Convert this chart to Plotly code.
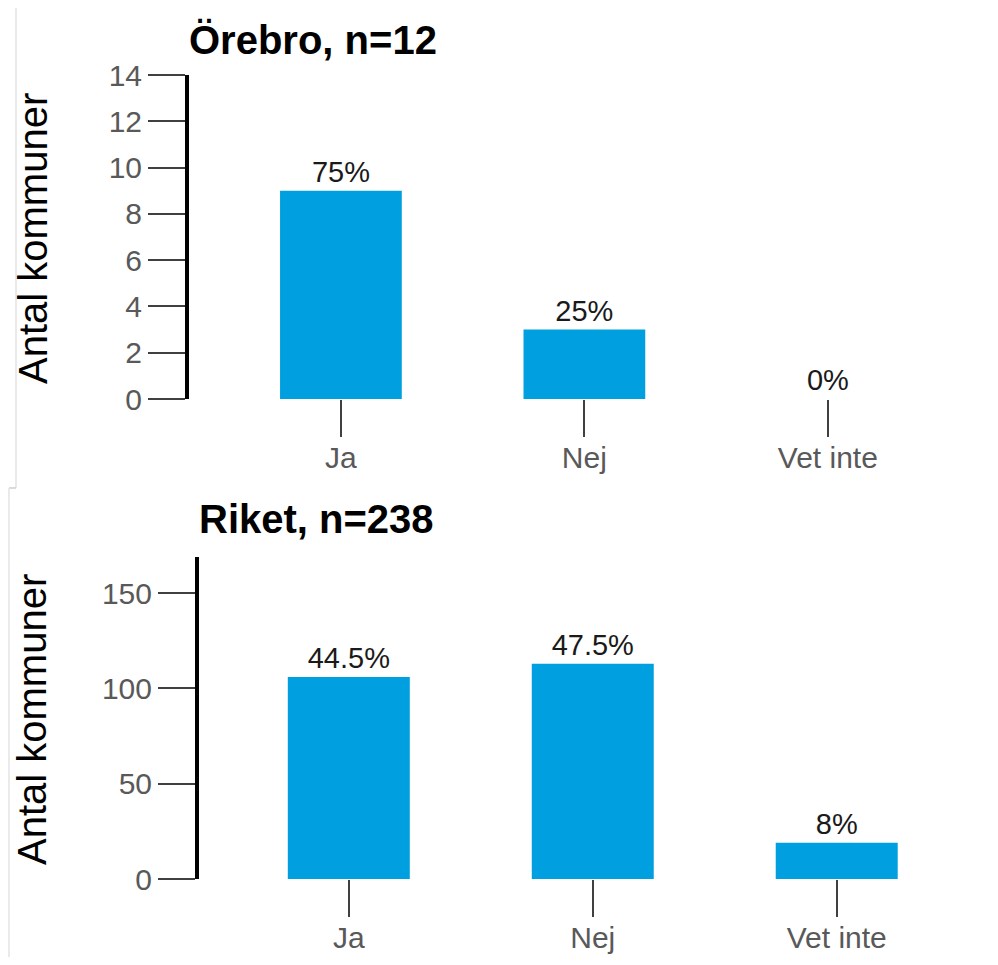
import plotly.graph_objects as go

categories = ["Ja", "Nej", "Vet inte"]
orebro_counts = [9, 3, 0]
orebro_pct = ["75%", "25%", "0%"]
riket_counts = [106, 113, 19]
riket_pct = ["44.5%", "47.5%", "8%"]
orebro_title = "Örebro, n=12"
riket_title = "Riket, n=238"
y_title = "Antal kommuner"
orebro_yticks = [0, 2, 4, 6, 8, 10, 12, 14]
riket_yticks = [0, 50, 100, 150]

# page body has an 8px margin; the figure is sized to fit the 998x965 window
OFF = 8
W, H = 998 - 2 * OFF, 965 - 2 * OFF
BAR = "#009FE0"
FONT = "Liberation Sans, Arial, sans-serif"

fig = go.Figure()
fig.add_trace(go.Bar(x=categories, y=orebro_counts, text=orebro_pct, textposition="outside",
                     marker=dict(color=BAR, line=dict(width=0)), width=0.5,
                     textfont=dict(size=29, color="#1a1a1a", family=FONT),
                     cliponaxis=False, xaxis="x", yaxis="y", showlegend=False, hoverinfo="x+y"))
fig.add_trace(go.Bar(x=categories, y=riket_counts, text=riket_pct, textposition="outside",
                     marker=dict(color=BAR, line=dict(width=0)), width=0.5,
                     textfont=dict(size=29, color="#1a1a1a", family=FONT),
                     cliponaxis=False, xaxis="x2", yaxis="y2", showlegend=False, hoverinfo="x+y"))

def px_x(p):
    return (p - OFF) / W

def px_y(p):
    return 1 - (p - OFF) / H

xcommon = dict(type="category", categoryorder="array", categoryarray=categories,
               showline=False, showgrid=False, zeroline=False, automargin=False,
               ticks="outside", ticklen=37, tickwidth=2, tickcolor="#404040",
               ticklabelstandoff=-5,
               tickfont=dict(size=30, color="#595959", family=FONT))
ycommon = dict(showline=True, linewidth=4, linecolor="black", showgrid=False, zeroline=False,
               automargin=False,
               ticks="outside", ticklen=37, tickwidth=2, tickcolor="#404040",
               tickfont=dict(size=30, color="#595959", family=FONT))

fig.update_layout(
    template="none",
    width=W, height=H, margin=dict(l=0, r=0, t=0, b=0, pad=0, autoexpand=False),
    paper_bgcolor="white", plot_bgcolor="white",
    font=dict(family=FONT),
    xaxis=dict(xcommon, domain=[px_x(189), 1.0], range=[-0.624, (W + OFF - 340.8) / 243.5], anchor="y"),
    yaxis=dict(ycommon, domain=[px_y(399), px_y(75)], range=[0, 14], tickvals=orebro_yticks, anchor="x"),
    xaxis2=dict(xcommon, domain=[px_x(199), 1.0], range=[-0.614, (W + OFF - 348.7) / 244.0], anchor="y2"),
    yaxis2=dict(ycommon, domain=[px_y(879), px_y(557)], range=[0, 169], tickvals=riket_yticks, anchor="x2"),
    annotations=[
        dict(text="<b>" + orebro_title + "</b>", xref="paper", yref="paper", x=px_x(187), y=px_y(40),
             xanchor="left", yanchor="middle", showarrow=False, font=dict(size=40, color="black", family=FONT)),
        dict(text="<b>" + riket_title + "</b>", xref="paper", yref="paper", x=px_x(197), y=px_y(519),
             xanchor="left", yanchor="middle", showarrow=False, font=dict(size=40, color="black", family=FONT)),
        dict(text=y_title, xref="paper", yref="paper", x=px_x(33), y=px_y(239), textangle=-90,
             xanchor="center", yanchor="middle", showarrow=False, font=dict(size=40, color="black", family=FONT)),
        dict(text=y_title, xref="paper", yref="paper", x=px_x(32), y=px_y(720), textangle=-90,
             xanchor="center", yanchor="middle", showarrow=False, font=dict(size=40, color="black", family=FONT)),
    ],
    shapes=[
        dict(type="line", xref="paper", yref="paper", x0=px_x(16), x1=px_x(16), y0=1, y1=px_y(488),
             line=dict(color="#e3e3e3", width=1.5)),
        dict(type="line", xref="paper", yref="paper", x0=px_x(9), x1=px_x(16), y0=px_y(488), y1=px_y(488),
             line=dict(color="#cfcfcf", width=1.5)),
        dict(type="line", xref="paper", yref="paper", x0=px_x(9), x1=px_x(9), y0=px_y(488), y1=0,
             line=dict(color="#e3e3e3", width=1.5)),
    ],
)

fig.write_html("out.html")
